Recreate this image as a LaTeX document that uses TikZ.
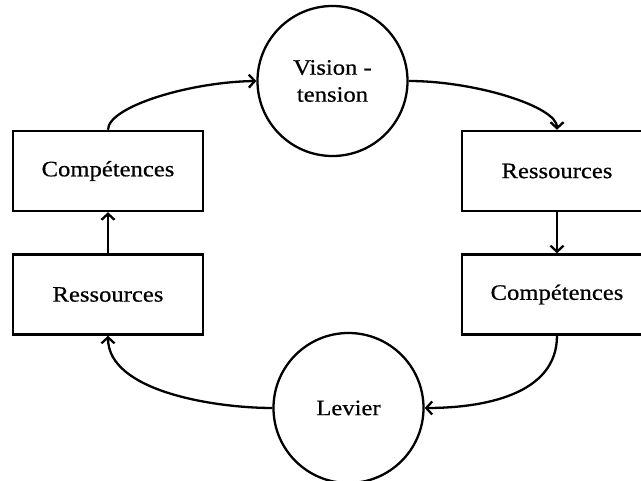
\documentclass[tikz,border=0pt]{standalone}
\usepackage{fontspec}
\setmainfont{Liberation Serif}[FakeStretch=1.12,FakeBold=0.6]
\usetikzlibrary{arrows.meta}
\begin{document}
\begin{tikzpicture}[x=1pt,y=-1pt,
  box/.style={draw, line width=2.5pt, minimum width=190pt, minimum height=80pt,
    inner sep=0pt, font=\fontsize{22}{27}\selectfont},
  ring/.style={draw, circle, line width=2.3pt, minimum size=150pt, inner sep=0pt,
    align=center, font=\fontsize{22}{27}\selectfont},
  link/.style={line width=2.3pt, -{Straight Barb[length=6pt,width=13pt,line width=2.3pt]}}]
  \useasboundingbox (0,0) rectangle (641,481);
  \clip (0,0) rectangle (641,481);
  \fill[white] (0,0) rectangle (641,481);

  % the cycle of elements
  \node[ring] (vision) at (332.5,81) {Vision -\\tension};
  \node[box]  (compL) at (108,171) {Compétences};
  \node[box]  (ressL) at (108,294.5) {Ressources};
  \node[box]  (ressR) at (557,171) {Ressources};
  \node[box]  (compR) at (557,294.5) {Compétences};
  \node[ring] (levier) at (348.5,408) {Levier};

  % connectors
  \draw[link] (compL.north) .. controls +(0,-23) and +(-67,1) .. (vision.west);
  \draw[link] (vision.east) .. controls +(67,0) and +(0,-23) .. (ressR.north);
  \draw[link] (ressR.south) -- (compR.north);
  \draw[link] (compR.south) to[out=-90,in=0] (levier.east);
  \draw[link] (levier.west) to[out=180,in=-90,looseness=0.8] (ressL.south);
  \draw[link] (ressL.north) -- (compL.south);
\end{tikzpicture}
\end{document}
